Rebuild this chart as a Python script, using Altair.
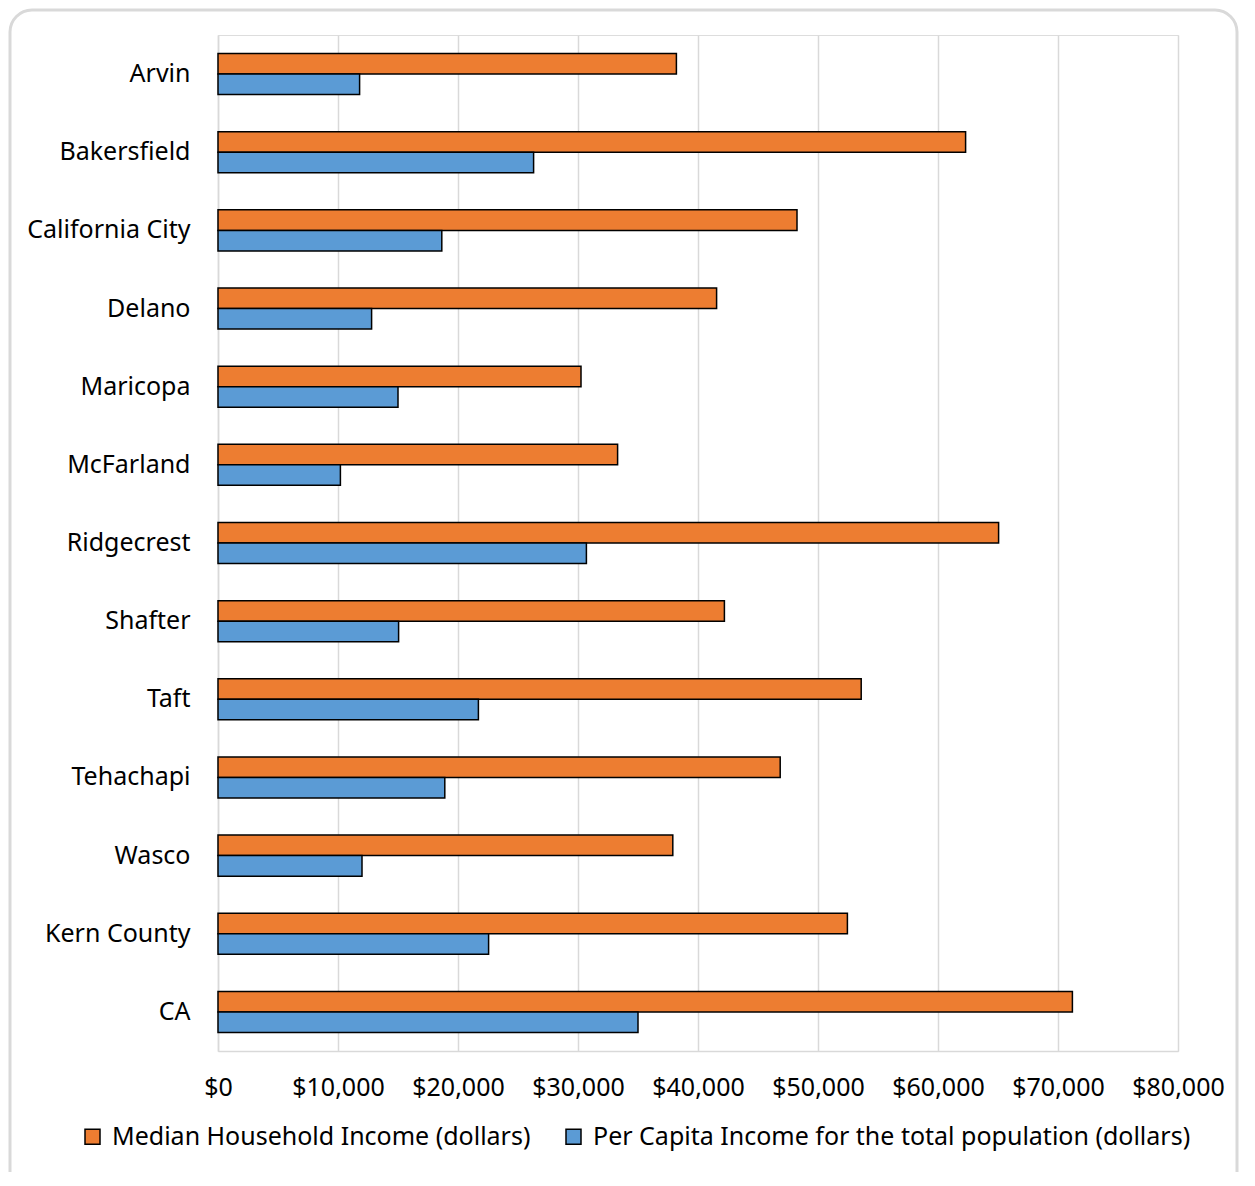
import altair as alt
import pandas as pd

categories = ["Arvin", "Bakersfield", "California City", "Delano", "Maricopa", "McFarland",
              "Ridgecrest", "Shafter", "Taft", "Tehachapi", "Wasco", "Kern County", "CA"]
median_income = [38200, 62300, 48250, 41550, 30250, 33300, 65050, 42200, 53600, 46850, 37900, 52450, 71200]
per_capita = [11800, 26300, 18650, 12800, 15000, 10200, 30700, 15050, 21700, 18900, 12000, 22550, 35000]
series = ["Median Household Income (dollars)", "Per Capita Income for the total population (dollars)"]
colors = ["#ED7D31", "#5B9BD5"]
x_ticks = [0, 10000, 20000, 30000, 40000, 50000, 60000, 70000, 80000]

rows = []
for c, m, p in zip(categories, median_income, per_capita):
    rows.append({"place": c, "series": series[0], "value": m})
    rows.append({"place": c, "series": series[1], "value": p})
df = pd.DataFrame(rows)

FONT = "Noto Sans"

frame = alt.Chart(pd.DataFrame({"k": [0]})).mark_rect(
    fill="transparent", stroke="#d9d9d9", strokeWidth=3, cornerRadius=22
).encode(
    x=alt.value(-208), x2=alt.value(1019), y=alt.value(-25), y2=alt.value(1160)
)

bars = alt.Chart(df).mark_bar(stroke="black", strokeWidth=1.5).encode(
    y=alt.Y("place:N", sort=categories, title=None,
            scale=alt.Scale(paddingInner=0.475, paddingOuter=0.2375),
            axis=alt.Axis(labelFontSize=25, labelFont=FONT, labelColor="#000000",
                          labelPadding=28, ticks=False, domain=True, domainColor="#d9d9d9",
                          domainWidth=1.5, grid=False)),
    yOffset=alt.YOffset("series:N", sort=series, scale=alt.Scale(paddingInner=0, paddingOuter=0)),
    x=alt.X("value:Q", title=None,
            scale=alt.Scale(domain=[0, 80000], nice=False),
            axis=alt.Axis(values=x_ticks, format="$,.0f", labelFontSize=25, labelFont=FONT,
                          labelColor="#000000", labelPadding=24, ticks=False,
                          labelOverlap=False, labelFlush=False,
                          domainColor="#d9d9d9", domainWidth=1.5,
                          grid=True, gridColor="#d9d9d9", gridWidth=1.5)),
    color=alt.Color("series:N", sort=series,
                    scale=alt.Scale(domain=series, range=colors),
                    legend=alt.Legend(title=None, orient="none", direction="horizontal",
                                      legendX=-138, legendY=1089,
                                      labelFontSize=25, labelFont=FONT, labelColor="#000000",
                                      symbolType="square", symbolSize=225,
                                      symbolStrokeColor="black", symbolStrokeWidth=1.5,
                                      labelOffset=7, columnPadding=30, labelLimit=1000)),
)

chart = alt.layer(frame, bars).properties(
    width=960, height=1016,
    autosize=alt.AutoSizeParams(type="none"),
    padding={"left": 210, "top": 27, "right": 61, "bottom": 121},
).configure_view(stroke="#d9d9d9", strokeWidth=1.5).configure(background="white")

chart.save("out.html", embed_options={"renderer": "svg", "actions": False})
